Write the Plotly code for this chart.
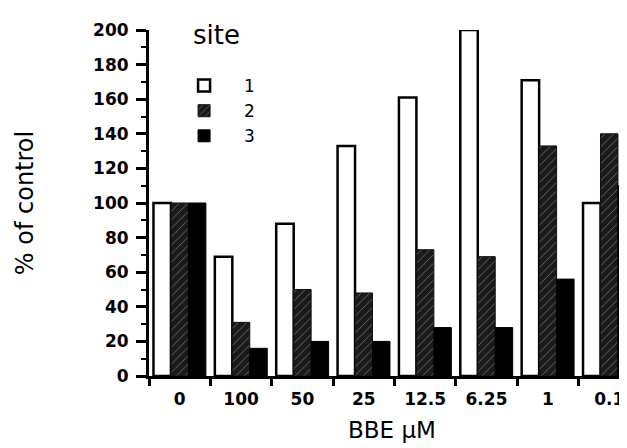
import plotly.graph_objects as go

categories = ["0", "100", "50", "25", "12.5", "6.25", "1", "0.1"]
site1 = [100, 69, 88, 133, 161, 200, 171, 100]
site2 = [100, 31, 50, 48, 73, 69, 133, 140]
site3 = [100, 16, 20, 20, 28, 28, 56, 110]
series_names = ["1", "2", "3"]
legend_title = "site"

FONT = "DejaVu Sans, Liberation Sans, Arial, sans-serif"

fig = go.Figure()
fig.add_trace(go.Bar(
    x=categories, y=site1, name=series_names[0],
    marker=dict(color="white", line=dict(color="black", width=2.5)),
))
fig.add_trace(go.Bar(
    x=categories, y=site2, name=series_names[1],
    marker=dict(color="#1a1a1a", line=dict(color="#111", width=1),
                pattern=dict(shape="/", bgcolor="#1a1a1a", fgcolor="#bbbbbb",
                             size=6, solidity=0.15)),
))
fig.add_trace(go.Bar(
    x=categories, y=site3, name=series_names[2],
    marker=dict(color="black", line=dict(color="black", width=1)),
))

fig.add_annotation(
    text=legend_title, xref="paper", yref="paper", x=0.087, y=0.985,
    xanchor="left", yanchor="middle", showarrow=False,
    font=dict(size=26, family=FONT, color="black"),
)

fig.update_layout(
    width=627, height=448,
    margin=dict(l=141, r=0, t=22, b=80),
    paper_bgcolor="white", plot_bgcolor="white",
    barmode="group", bargap=0.146, bargroupgap=0,
    font=dict(family=FONT, color="black", size=17),
    legend=dict(
        x=0.031, y=0.89, xanchor="left", yanchor="top",
        font=dict(size=17, family=FONT),
        bgcolor="rgba(0,0,0,0)",
        itemwidth=70,
        tracegroupgap=0,
    ),
    showlegend=True,
)
fig.update_xaxes(
    type="category", range=[-0.5, 7.42],
    showline=True, linecolor="black", linewidth=2.5,
    ticks="outside", tickson="boundaries", ticklen=7, tickwidth=2.5, tickcolor="black",
    ticklabelstandoff=6,
    tickfont=dict(size=17, family=FONT, weight="bold"),
    showgrid=False, zeroline=False,
    title=dict(text="BBE µM", font=dict(size=23, family=FONT), standoff=14),
)
fig.update_yaxes(
    range=[0, 200], tickvals=list(range(0, 201, 20)),
    showline=True, linecolor="black", linewidth=3,
    ticks="outside", ticklen=10, tickwidth=2.5, tickcolor="black",
    ticklabelstandoff=4,
    minor=dict(ticks="outside", ticklen=5, tickwidth=2, tickcolor="black", dtick=10),
    tickfont=dict(size=17, family=FONT, weight="bold"),
    showgrid=False, zeroline=False,
    title=dict(text="% of control", font=dict(size=24, family=FONT), standoff=53),
)

fig.write_html("out.html")
